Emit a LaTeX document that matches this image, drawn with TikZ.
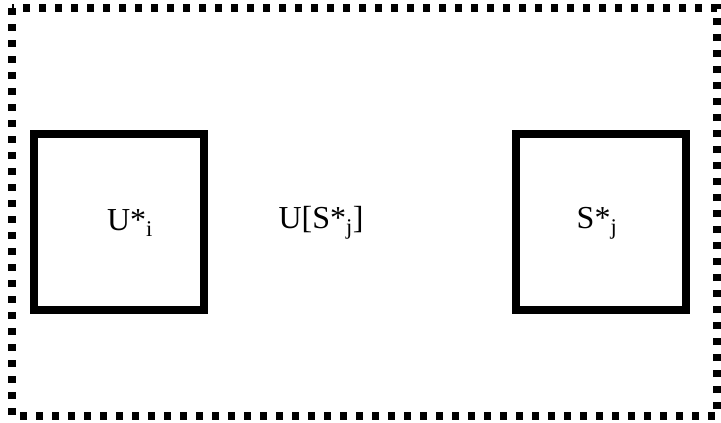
\documentclass[tikz,border=0pt]{standalone}
\usepackage{fontspec}
\setmainfont{Liberation Serif}
\begin{document}
\begin{tikzpicture}[x=1pt,y=-1pt,
  box/.style={draw=black,line width=8pt},
  frame/.style={draw=black,line width=8pt,dash pattern=on 7pt off 9pt},
  lbl/.style={font=\fontsize{32}{36}\selectfont,inner sep=0pt}]
\useasboundingbox (0,0) rectangle (721,423);
\draw[frame] (12,8) rectangle (717,416);
\draw[box] (34,134) rectangle (204,310);
\draw[box] (516,134) rectangle (686,310);
\node[lbl] (ui) at (130,223) {U*\textsubscript{i}};
\node[lbl] (usj) at (321,223) {U[S*\textsubscript{j}]};
\node[lbl] (sj) at (597,223) {S*\textsubscript{j}};
\end{tikzpicture}
\end{document}
